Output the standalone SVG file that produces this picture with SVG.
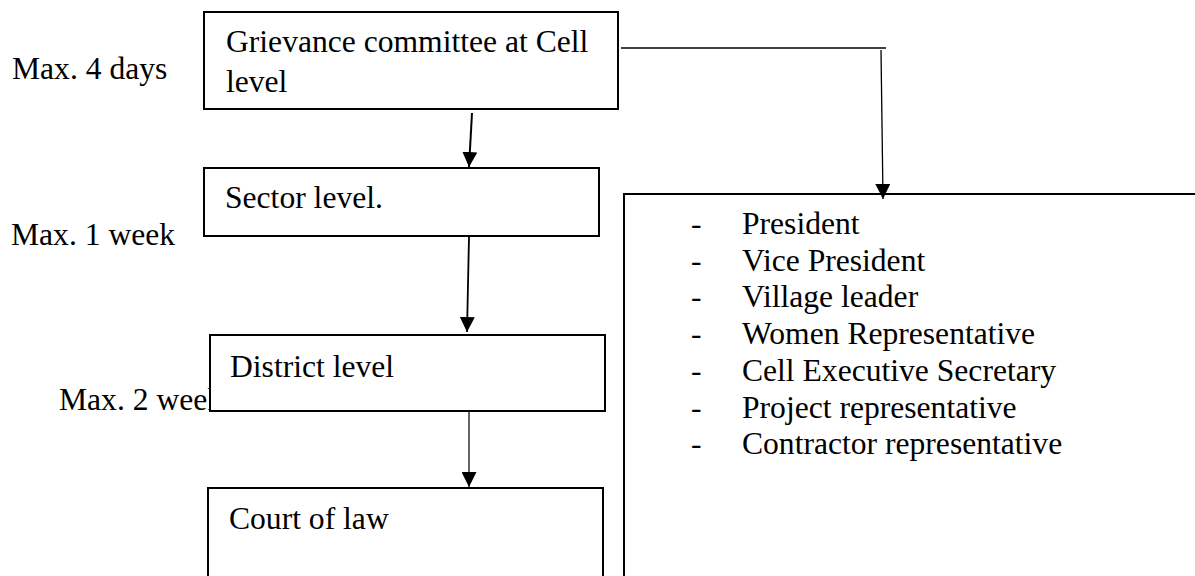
<svg xmlns="http://www.w3.org/2000/svg" width="1195" height="576" viewBox="0 0 1195 576">
<style>
  text { font-family: "Liberation Serif", "Times New Roman", serif; font-size: 31.6px; fill: #000; }
  .box { fill: #fff; stroke: #000; stroke-width: 2; }
  .conn { fill: none; stroke: #000; }
</style>
<defs>
  <marker id="arrow" markerUnits="userSpaceOnUse" markerWidth="15" markerHeight="15" refX="15" refY="7.5" orient="auto" viewBox="0 0 15 15">
    <path d="M0,0 L15,7.5 L0,15 z" fill="#000"/>
  </marker>
</defs>
<rect width="1195" height="576" fill="#fff"/>

<g id="time-labels">
  <text x="12" y="79">Max. 4 days</text>
  <text x="11" y="245">Max. 1 week</text>
  <text x="59" y="410">Max. 2 weeks</text>
</g>

<g id="node-cell">
  <rect class="box" x="204" y="12" width="414" height="97"/>
  <text x="226" y="52">Grievance committee at Cell</text>
  <text x="226" y="92">level</text>
</g>

<g id="node-sector">
  <rect class="box" x="204" y="168" width="395" height="68"/>
  <text x="225" y="208">Sector level.</text>
</g>

<g id="node-district">
  <rect class="box" x="210" y="335" width="395" height="76"/>
  <text x="230" y="377">District level</text>
</g>

<g id="node-court">
  <rect class="box" x="208" y="488" width="395" height="120"/>
  <text x="229" y="529">Court of law</text>
</g>

<g id="node-members">
  <rect class="box" x="624" y="194" width="600" height="420"/>
  <text x="691" y="234">-</text><text x="742" y="234">President</text>
  <text x="691" y="270.7">-</text><text x="742" y="270.7">Vice President</text>
  <text x="691" y="307.4">-</text><text x="742" y="307.4">Village leader</text>
  <text x="691" y="344">-</text><text x="742" y="344">Women Representative</text>
  <text x="691" y="380.8">-</text><text x="742" y="380.8">Cell Executive Secretary</text>
  <text x="691" y="417.5">-</text><text x="742" y="417.5">Project representative</text>
  <text x="691" y="454.2">-</text><text x="742" y="454.2">Contractor representative</text>
</g>

<g id="connectors">
  <line class="conn" x1="472" y1="113" x2="469" y2="167" stroke-width="2" marker-end="url(#arrow)"/>
  <line class="conn" x1="469" y1="237" x2="467" y2="332" stroke-width="1.8" marker-end="url(#arrow)"/>
  <line class="conn" x1="469" y1="412" x2="469" y2="487" stroke-width="1.2" marker-end="url(#arrow)"/>
  <line class="conn" x1="621" y1="48" x2="886" y2="48" stroke-width="1.3"/>
  <line class="conn" x1="881" y1="50" x2="883" y2="199" stroke-width="1.3" marker-end="url(#arrow)"/>
</g>
</svg>
